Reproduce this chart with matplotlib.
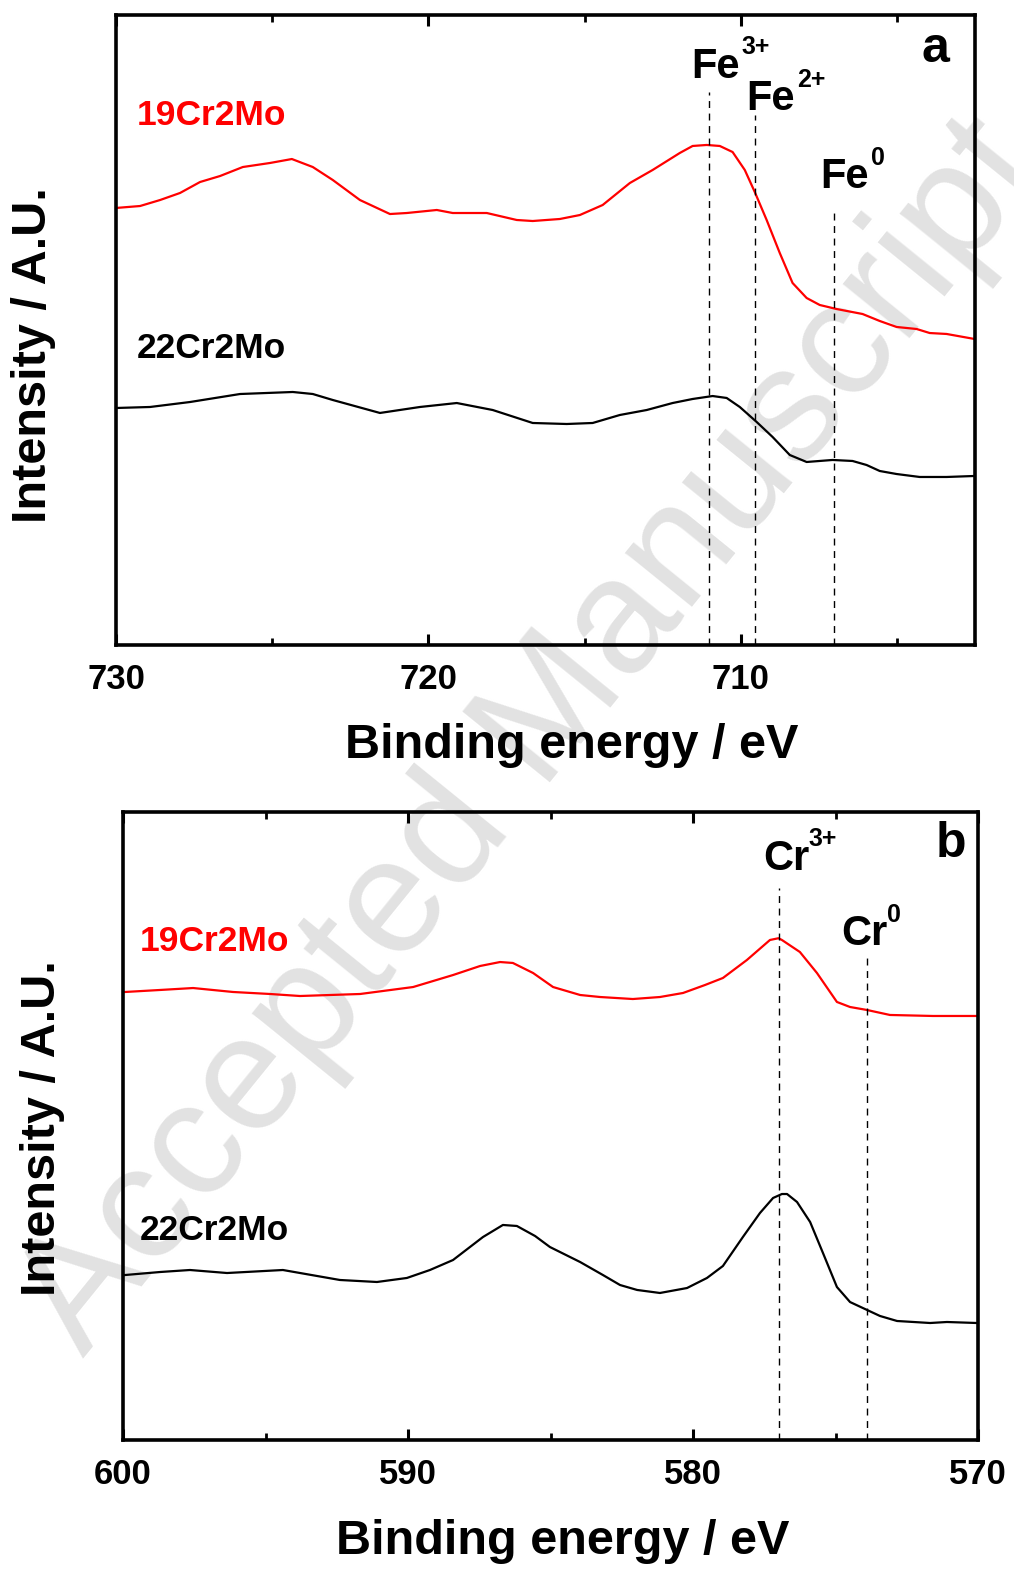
import matplotlib
matplotlib.use("Agg")
import matplotlib.pyplot as plt
from matplotlib.ticker import MultipleLocator
import matplotlib.transforms as mtransforms

plt.rcParams['font.family'] = ['Liberation Sans', 'DejaVu Sans']
plt.rcParams['font.weight'] = 'bold'

# ---------------- data: panel a (Fe 2p) ----------------
fe_x_19 = [730.00, 729.23, 728.59, 727.95, 727.31, 726.67, 725.94, 725.07, 724.37, 723.70,
           723.06, 722.19, 721.23, 720.69, 719.73, 719.22, 718.13, 717.17, 716.66, 715.79,
           715.15, 714.42, 713.55, 712.82, 711.95, 711.54, 711.09, 710.67, 710.26, 709.87,
           709.55, 709.17, 708.75, 708.34, 707.89, 707.47, 706.93, 706.10, 705.55, 705.01,
           704.37, 703.95, 703.41, 702.51]
fe_y_19 = [69.37, 69.68, 70.63, 71.75, 73.49, 74.44, 75.87, 76.51, 77.14, 75.87,
           73.81, 70.63, 68.41, 68.57, 69.05, 68.57, 68.57, 67.46, 67.30, 67.62,
           68.25, 69.84, 73.33, 75.40, 78.10, 79.21, 79.37, 79.21, 78.25, 75.40,
           71.90, 67.46, 62.22, 57.46, 55.08, 53.97, 53.33, 52.54, 51.43, 50.48,
           50.16, 49.52, 49.37, 48.57]

fe_x_22 = [730.00, 728.91, 727.63, 726.03, 724.34, 723.70, 723.06, 721.55, 720.27, 719.09,
           717.94, 716.66, 715.57, 714.74, 713.87, 713.01, 712.18, 711.54, 710.90, 710.45,
           710.03, 709.49, 708.98, 708.43, 707.89, 707.06, 706.42, 705.97, 705.55, 705.01,
           704.27, 703.41, 702.51]
fe_y_22 = [37.62, 37.78, 38.57, 39.84, 40.16, 39.84, 38.89, 36.83, 37.78, 38.41,
           37.30, 35.24, 35.08, 35.24, 36.51, 37.30, 38.41, 39.05, 39.52, 39.21,
           37.78, 35.40, 33.02, 30.16, 29.05, 29.37, 29.21, 28.57, 27.62, 27.14,
           26.67, 26.67, 26.83]

# ---------------- data: panel b (Cr 2p) ----------------
cr_x_19 = [599.93, 598.70, 597.54, 596.14, 594.84, 593.79, 591.68, 589.82, 588.42, 587.47,
           586.77, 586.32, 585.61, 584.91, 583.96, 583.26, 582.11, 581.16, 580.35, 579.58,
           578.95, 578.11, 577.30, 577.00, 576.88, 576.25, 575.65, 574.95, 574.49, 573.89,
           573.09, 571.58, 570.00]
cr_y_19 = [71.34, 71.66, 71.97, 71.34, 71.02, 70.70, 71.02, 72.13, 74.04, 75.48,
           76.11, 75.96, 74.36, 72.13, 70.86, 70.54, 70.22, 70.54, 71.18, 72.45,
           73.57, 76.43, 79.62, 79.90, 79.62, 77.71, 74.36, 69.75, 68.95, 68.47,
           67.68, 67.52, 67.52]

cr_x_22 = [599.93, 598.70, 597.65, 596.35, 594.39, 592.39, 591.09, 590.04, 589.23, 588.42,
           587.37, 586.67, 586.18, 585.54, 585.02, 583.96, 583.16, 582.56, 581.96, 581.16,
           580.21, 579.51, 578.95, 578.25, 577.65, 577.19, 576.88, 576.70, 576.35, 575.89,
           575.44, 574.95, 574.49, 573.89, 573.44, 572.84, 571.68, 571.09, 570.04]
cr_y_22 = [26.27, 26.75, 27.07, 26.59, 27.07, 25.48, 25.16, 25.80, 27.07, 28.66,
           32.32, 34.24, 34.08, 32.48, 30.73, 28.34, 26.27, 24.68, 23.89, 23.41,
           24.20, 25.80, 27.71, 32.32, 36.15, 38.54, 39.17, 39.17, 37.90, 34.71,
           29.78, 24.36, 21.97, 20.70, 19.75, 18.95, 18.63, 18.79, 18.63]

sample_names = ["19Cr2Mo", "22Cr2Mo"]
sample_colors = ["#ff0000", "#000000"]

fe_peaks = [711.0, 709.55, 707.0]
fe_peak_base = ["Fe", "Fe", "Fe"]
fe_peak_sup = ["3+", "2+", "0"]
cr_peaks = [577.0, 573.9]
cr_peak_base = ["Cr", "Cr"]
cr_peak_sup = ["3+", "0"]

xlabel = "Binding energy / eV"
ylabel = "Intensity / A.U."

# ---------------- figure ----------------
W, H = 1014, 1570
fig = plt.figure(figsize=(W / 100, H / 100), dpi=100)

def fx(px):
    return px / W

def fy(py):
    return 1 - py / H

# watermark
fig.text(fx(532), fy(738), "Accepted Manuscript", rotation=51, fontsize=118,
         fontweight='normal', color='#e2e2e2', ha='center', va='center', zorder=-5)

ax1 = fig.add_axes([fx(116), fy(645), (975 - 116) / W, (645 - 15) / H])
ax2 = fig.add_axes([fx(123), fy(1440), (978 - 123) / W, (1440 - 812) / H])


def style_axis(ax, xlim, major, minor):
    ax.set_facecolor('none')
    ax.set_xlim(*xlim)
    ax.set_ylim(0, 100)
    ax.xaxis.set_major_locator(MultipleLocator(major))
    ax.xaxis.set_minor_locator(MultipleLocator(minor))
    ax.set_yticks([])
    for s in ax.spines.values():
        s.set_linewidth(2.6)
    ax.tick_params(axis='x', which='major', direction='in', length=8, width=2.2,
                   top=True, bottom=True, labelsize=25, pad=13)
    ax.tick_params(axis='x', which='minor', direction='in', length=5, width=2.0,
                   top=True, bottom=True)
    for lab in ax.get_xticklabels():
        lab.set_fontweight('bold')


style_axis(ax1, (730, 702.5), 10, 5)
style_axis(ax2, (600, 570), 10, 5)

lw = 1.6
ax1.plot(fe_x_19, fe_y_19, color=sample_colors[0], lw=lw)
ax1.plot(fe_x_22, fe_y_22, color=sample_colors[1], lw=lw)
ax2.plot(cr_x_19, cr_y_19, color=sample_colors[0], lw=lw)
ax2.plot(cr_x_22, cr_y_22, color=sample_colors[1], lw=lw)

dash = (0, (5, 4))
for xp, top in zip(fe_peaks, [0.878, 0.841, 0.694]):
    ax1.axvline(xp, ymin=0, ymax=top, color='black', lw=1.0, ls=dash)
for xp, top in zip(cr_peaks, [0.879, 0.775]):
    ax2.axvline(xp, ymin=0, ymax=top, color='black', lw=1.0, ls=dash)

# sample labels
lab_fs = 25.5
ax1.text(0.0244, 0.840, sample_names[0], transform=ax1.transAxes, color=sample_colors[0],
         fontsize=lab_fs, fontweight='bold', ha='left', va='center')
ax1.text(0.0244, 0.471, sample_names[1], transform=ax1.transAxes, color=sample_colors[1],
         fontsize=lab_fs, fontweight='bold', ha='left', va='center')
ax2.text(0.0199, 0.793, sample_names[0], transform=ax2.transAxes, color=sample_colors[0],
         fontsize=lab_fs, fontweight='bold', ha='left', va='center')
ax2.text(0.0199, 0.334, sample_names[1], transform=ax2.transAxes, color=sample_colors[1],
         fontsize=lab_fs, fontweight='bold', ha='left', va='center')


def peak_label(ax, x, yfrac, base, sup, dx):
    tr = mtransforms.blended_transform_factory(ax.transData, ax.transAxes)
    ax.text(x, yfrac, base, transform=tr, fontsize=30, fontweight='bold',
            ha='left', va='baseline')
    ax.annotate(sup, xy=(x, yfrac), xycoords=tr, xytext=(dx, 17),
                textcoords='offset points', fontsize=18, fontweight='bold',
                ha='left', va='baseline')


fe_lab_x = [711.57, 709.81, 707.44]
fe_lab_y = [0.900, 0.849, 0.725]
for x, y, b, s in zip(fe_lab_x, fe_lab_y, fe_peak_base, fe_peak_sup):
    peak_label(ax1, x, y, b, s, 36)

cr_lab_x = [577.54, 574.81]
cr_lab_y = [0.908, 0.788]
for x, y, b, s in zip(cr_lab_x, cr_lab_y, cr_peak_base, cr_peak_sup):
    peak_label(ax2, x, y, b, s, 33)

ax1.text(0.938, 0.925, "a", transform=ax1.transAxes, fontsize=36, fontweight='bold',
         ha='left', va='baseline')
ax2.text(0.950, 0.928, "b", transform=ax2.transAxes, fontsize=36, fontweight='bold',
         ha='left', va='baseline')

# axis labels
fig.text(fx(572), fy(745), xlabel, fontsize=35, fontweight='bold', ha='center', va='center')
fig.text(fx(563), fy(1541), xlabel, fontsize=35, fontweight='bold', ha='center', va='center')
fig.text(fx(34), fy(355), ylabel, fontsize=35, fontweight='bold', ha='center', va='center',
         rotation=90)
fig.text(fx(43), fy(1128), ylabel, fontsize=35, fontweight='bold', ha='center', va='center',
         rotation=90)

fig.savefig("out.png", dpi=100)
